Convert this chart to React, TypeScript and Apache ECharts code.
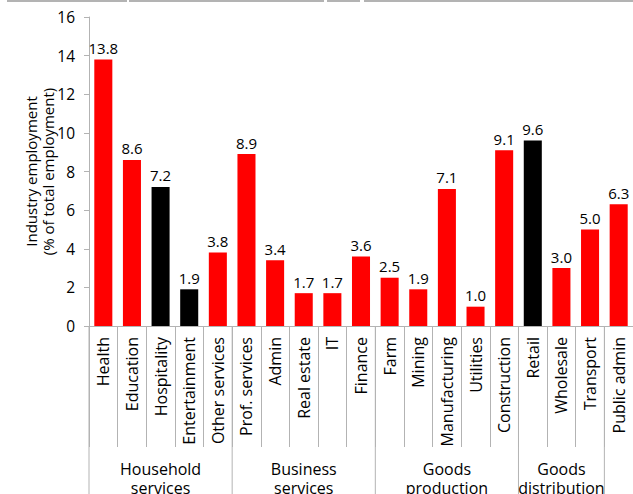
import React, { useEffect, useRef } from "react";
import * as echarts from "echarts";

const categories = [
  "Health", "Education", "Hospitality", "Entertainment", "Other services",
  "Prof. services", "Admin", "Real estate", "IT", "Finance",
  "Farm", "Mining", "Manufacturing", "Utilities", "Construction",
  "Retail", "Wholesale", "Transport", "Public admin",
];
const values = [13.8, 8.6, 7.2, 1.9, 3.8, 8.9, 3.4, 1.7, 1.7, 3.6, 2.5, 1.9, 7.1, 1.0, 9.1, 9.6, 3.0, 5.0, 6.3];
const highlighted = ["Hospitality", "Entertainment", "Retail"];
const groups = [
  { label: "Household\nservices", start: 0, end: 4 },
  { label: "Business\nservices", start: 5, end: 9 },
  { label: "Goods\nproduction", start: 10, end: 14 },
  { label: "Goods\ndistribution", start: 15, end: 17 },
];
const yTicks = { min: 0, max: 16, interval: 2 };
const yTitle = "Industry employment\n(% of total employment)";

const FONT = "Open Sans";
const GRAY = "#b3b3b3";

export default function App() {
  const ref = useRef<HTMLDivElement>(null);
  useEffect(() => {
    if (!ref.current) return;
    const chart = echarts.init(ref.current, null, { renderer: "svg" });
    const top = 17;
    const axisY = 326;
    chart.setOption({
      animation: false,
      textStyle: { fontFamily: FONT },
      grid: { left: 89, right: -3.5, top, bottom: 494 - axisY },
      xAxis: {
        type: "category",
        data: categories,
        axisLine: { lineStyle: { color: GRAY, width: 1 } },
        axisTick: { show: true, length: 121, lineStyle: { color: GRAY } },
        axisLabel: { rotate: 90, margin: 11, fontSize: 16, color: "#000", fontFamily: FONT, interval: 0 },
      },
      yAxis: {
        type: "value",
        min: yTicks.min,
        max: yTicks.max,
        interval: yTicks.interval,
        axisLine: { show: true, lineStyle: { color: GRAY } },
        axisTick: { show: true, length: 5, lineStyle: { color: GRAY } },
        splitLine: { show: false },
        axisLabel: { fontSize: 15.5, color: "#000", margin: 14, fontFamily: FONT },
      },
      series: [
        {
          type: "bar",
          data: values.map((v, i) => ({
            value: v,
            itemStyle: { color: highlighted.includes(categories[i]) ? "#000000" : "#ff0000" },
          })),
          barCategoryGap: "37%",
          label: {
            show: true,
            position: "top",
            distance: 4,
            fontSize: 15,
            color: "#000",
            fontFamily: FONT,
            formatter: (p: any) => Number(p.value).toFixed(1),
          },
        },
      ],
    });

    const c0 = chart.convertToPixel({ xAxisIndex: 0 }, 0) as number;
    const c1 = chart.convertToPixel({ xAxisIndex: 0 }, 1) as number;
    const w = c1 - c0;
    const boundary = (i: number) => c0 - w / 2 + i * w;
    const graphics: any[] = [];
    graphics.push({
      type: "text",
      x: 39,
      y: (top + axisY) / 2,
      rotation: Math.PI / 2,
      style: {
        text: yTitle,
        fill: "#000",
        font: `15px "${FONT}"`,
        align: "center",
        verticalAlign: "middle",
        lineHeight: 17,
      },
    });
    const longLines = [0, ...groups.map((g) => g.end + 1)];
    longLines.forEach((i) => {
      graphics.push({
        type: "line",
        shape: { x1: boundary(i), y1: axisY, x2: boundary(i), y2: 494 },
        style: { stroke: GRAY, lineWidth: 1 },
      });
    });
    groups.forEach((g) => {
      const cx = (boundary(g.start) + boundary(g.end + 1)) / 2;
      graphics.push({
        type: "text",
        x: cx,
        y: 459,
        style: {
          text: g.label,
          fill: "#000",
          font: `16px "${FONT}"`,
          align: "center",
          verticalAlign: "top",
          lineHeight: 19,
        },
      });
    });
    [[7, 127], [129, 324], [327, 360], [364, 633]].forEach(([a, b]) => {
      graphics.push({
        type: "line",
        shape: { x1: a, y1: 1, x2: b, y2: 1 },
        style: { stroke: GRAY, lineWidth: 2 },
      });
    });
    chart.setOption({ graphic: graphics });
    return () => chart.dispose();
  }, []);
  return <div ref={ref} style={{ width: 633, height: 494, position: "absolute", left: 0, top: 0 }} />;
}
